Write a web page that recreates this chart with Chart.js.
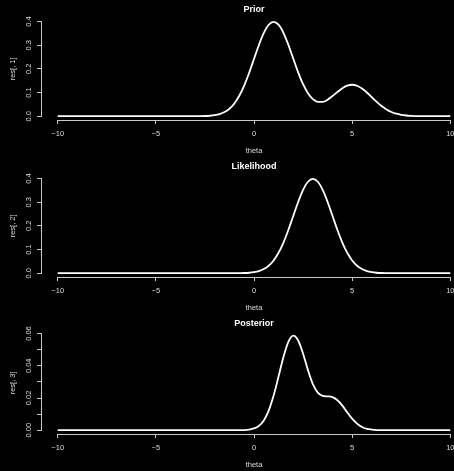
<!DOCTYPE html>
<html>
<head>
<meta charset="utf-8">
<script src="https://cdn.jsdelivr.net/npm/chart.js@4.4.1/dist/chart.umd.min.js"></script>
<style>
  html, body { margin: 0; padding: 0; background: #000; }
  #wrap { position: relative; width: 454px; height: 471px; overflow: hidden; background: #000; }
  .panel { position: absolute; left: 0; width: 454px; height: 157px; overflow: hidden; }
</style>
</head>
<body>
<div id="wrap">
  <div class="panel" style="top:0px"><canvas id="c1" width="466" height="157"></canvas></div>
  <div class="panel" style="top:157px"><canvas id="c2" width="466" height="157"></canvas></div>
  <div class="panel" style="top:314px"><canvas id="c3" width="466" height="157"></canvas></div>
</div>
<script>
// theta grid
const theta = [-10,
  -3, -2.75, -2.5, -2.25, -2, -1.75, -1.5, -1.25, -1, -0.75, -0.5, -0.25,
  0, 0.25, 0.5, 0.75, 1, 1.25, 1.5, 1.75, 2, 2.25, 2.5, 2.75,
  3, 3.25, 3.5, 3.75, 4, 4.25, 4.5, 4.75, 5, 5.25, 5.5, 5.75,
  6, 6.25, 6.5, 6.75, 7, 7.25, 7.5, 7.75, 8, 8.25, 8.5, 8.75,
  9, 10];

// res[, 1]
const prior = [0,
  0.0001, 0.0004, 0.0009, 0.0020, 0.0044, 0.0091, 0.0175, 0.0317, 0.0540, 0.0863, 0.1295, 0.1826,
  0.2420, 0.3011, 0.3521, 0.3867, 0.3990, 0.3868, 0.3524, 0.3018, 0.2435, 0.1856, 0.1353, 0.0969,
  0.0720, 0.0605, 0.0607, 0.0700, 0.0851, 0.1024, 0.1183, 0.1292, 0.1331, 0.1289, 0.1174, 0.1004,
  0.0807, 0.0609, 0.0432, 0.0288, 0.0180, 0.0106, 0.0058, 0.0030, 0.0015, 0.0007, 0.0003, 0.0001,
  0, 0];

// res[, 2]
const likelihood = [0,
  0, 0, 0, 0, 0, 0, 0, 0, 0.0001, 0.0004, 0.0009, 0.0020,
  0.0044, 0.0091, 0.0175, 0.0317, 0.0540, 0.0863, 0.1295, 0.1826, 0.2420, 0.3011, 0.3521, 0.3867,
  0.3989, 0.3867, 0.3521, 0.3011, 0.2420, 0.1826, 0.1295, 0.0863, 0.0540, 0.0317, 0.0175, 0.0091,
  0.0044, 0.0020, 0.0009, 0.0004, 0.0001, 0, 0, 0, 0, 0, 0, 0,
  0, 0];

// res[, 3]
const posterior = [0,
  0, 0, 0, 0, 0, 0, 0, 0, 0, 0, 0.0001, 0.0004,
  0.0011, 0.0027, 0.0061, 0.0122, 0.0215, 0.0333, 0.0455, 0.0549, 0.0587, 0.0557, 0.0475, 0.0373,
  0.0286, 0.0233, 0.0213, 0.0210, 0.0205, 0.0186, 0.0153, 0.0111, 0.0072, 0.0041, 0.0020, 0.0009,
  0.0004, 0.0001, 0, 0, 0, 0, 0, 0, 0, 0, 0, 0,
  0, 0];

const xTicks = [-10, -5, 0, 5, 10];
const yTicks1 = [0, 0.1, 0.2, 0.3, 0.4];
const yLabels1 = ["0.0", "0.1", "0.2", "0.3", "0.4"];
const yTicks3 = [0, 0.01, 0.02, 0.03, 0.04, 0.05, 0.06];
const yLabels3 = ["0.00", "", "0.02", "", "0.04", "", "0.06"];

const FONT = "'Liberation Sans', Arial, Helvetica, sans-serif";
const AXIS_COL = '#c8c8c8';
const TEXT_COL = '#dcdcdc';

// R-style axes: line only between first and last tick, y labels parallel to axis
const rAxes = {
  id: 'rAxes',
  afterDraw(chart, args, opts) {
    const ctx = chart.ctx;
    const xs = chart.scales.x, ys = chart.scales.y;
    ctx.save();
    ctx.strokeStyle = AXIS_COL;
    ctx.lineWidth = 1;
    ctx.beginPath();
    const yb = Math.round(xs.top) + 0.5;
    ctx.moveTo(xs.getPixelForValue(xTicks[0]), yb);
    ctx.lineTo(xs.getPixelForValue(xTicks[xTicks.length - 1]), yb);
    const xl = Math.round(ys.right) - 0.5;
    ctx.moveTo(xl, ys.getPixelForValue(opts.ticks[0]));
    ctx.lineTo(xl, ys.getPixelForValue(opts.ticks[opts.ticks.length - 1]));
    ctx.stroke();

    ctx.fillStyle = TEXT_COL;
    ctx.font = '7.5px ' + FONT;
    ctx.textAlign = 'center';
    ctx.textBaseline = 'middle';
    opts.ticks.forEach((v, i) => {
      if (!opts.labels[i]) return;
      ctx.save();
      ctx.translate(29, ys.getPixelForValue(v));
      ctx.rotate(-Math.PI / 2);
      ctx.fillText(opts.labels[i], 0, 0);
      ctx.restore();
    });
    ctx.restore();
  }
};

function makePanel(id, title, ylab, values, yMin, yMax, yTicks, yLabels) {
  new Chart(document.getElementById(id), {
    type: 'line',
    data: {
      datasets: [{
        data: theta.map((t, i) => ({ x: t, y: values[i] })),
        borderColor: '#ffffff',
        borderWidth: 1.8,
        pointRadius: 0,
        cubicInterpolationMode: 'monotone',
        fill: false
      }]
    },
    options: {
      responsive: false,
      animation: false,
      devicePixelRatio: 1,
      layout: { padding: 0 },
      plugins: {
        legend: { display: false },
        tooltip: { enabled: false },
        title: {
          display: true,
          text: title,
          color: '#ffffff',
          fullSize: false,
          font: { family: FONT, size: 9, weight: 'bold' },
          padding: { top: 4, bottom: 3 }
        },
        rAxes: { ticks: yTicks, labels: yLabels }
      },
      scales: {
        x: {
          type: 'linear',
          min: -10.8,
          max: 10.8,
          afterBuildTicks: s => { s.ticks = xTicks.map(v => ({ value: v })); },
          afterFit: s => { s.height = 37; s.paddingLeft = 0; s.paddingRight = 0; },
          grid: { display: true, drawOnChartArea: false, drawTicks: true, tickLength: 4, color: AXIS_COL, lineWidth: 1 },
          border: { display: false },
          ticks: {
            color: TEXT_COL,
            font: { family: FONT, size: 7.5 },
            padding: 5,
            maxRotation: 0,
            autoSkip: false,
            callback: v => (v < 0 ? '\u2212' + Math.abs(v) : String(v))
          },
          title: {
            display: true,
            text: 'theta',
            color: TEXT_COL,
            font: { family: FONT, size: 7.5 },
            padding: { top: 0, bottom: 1.5 }
          }
        },
        y: {
          min: yMin,
          max: yMax,
          afterBuildTicks: s => { s.ticks = yTicks.map(v => ({ value: v })); },
          afterFit: s => { s.width = 42; s.paddingTop = 0; s.paddingBottom = 0; },
          grid: { display: true, drawOnChartArea: false, drawTicks: true, tickLength: 5, color: AXIS_COL, lineWidth: 1 },
          border: { display: false },
          ticks: { display: false },
          title: {
            display: true,
            text: ylab,
            color: TEXT_COL,
            font: { family: FONT, size: 7.5 },
            padding: { top: 8, bottom: 0 }
          }
        }
      }
    },
    plugins: [rAxes]
  });
}

makePanel('c1', 'Prior', 'res[, 1]', prior, -0.016, 0.416, yTicks1, yLabels1);
makePanel('c2', 'Likelihood', 'res[, 2]', likelihood, -0.016, 0.416, yTicks1, yLabels1);
makePanel('c3', 'Posterior', 'res[, 3]', posterior, -0.00235, 0.0611, yTicks3, yLabels3);
</script>
</body>
</html>
